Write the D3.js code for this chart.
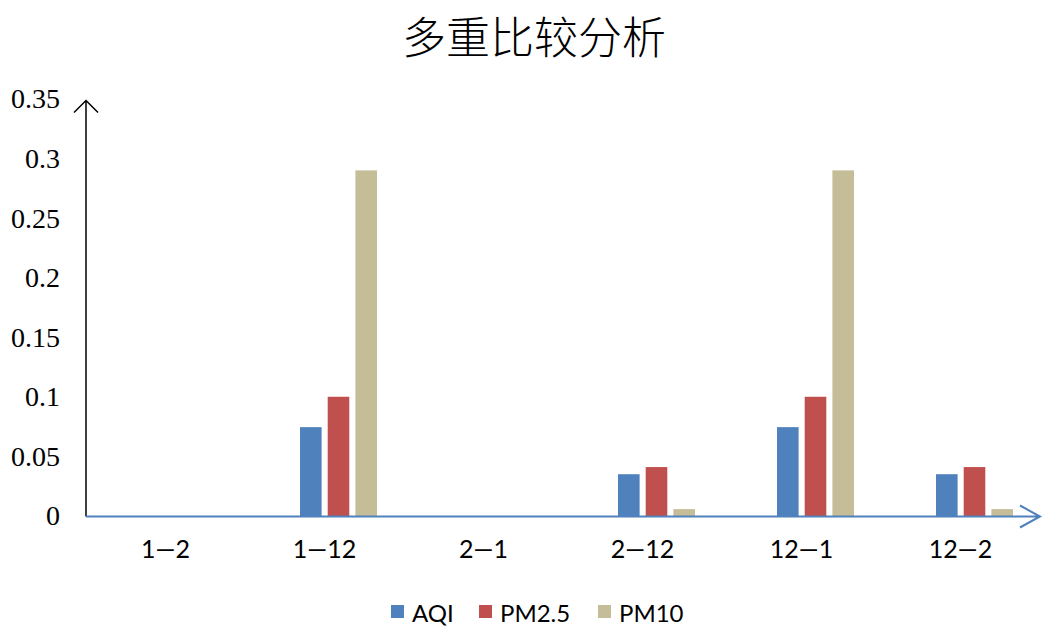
<!DOCTYPE html>
<html>
<head>
<meta charset="utf-8">
<script src="https://cdn.jsdelivr.net/npm/d3@7"></script>
<style>
body { margin: 0; background: #fff; }
svg { display: block; }
</style>
</head>
<body>
<div id="graph"></div>
<script>
// chart data
var categories = ["1—2", "1—12", "2—1", "2—12", "12—1", "12—2"];
var seriesNames = ["AQI", "PM2.5", "PM10"];
var aqi = [0, 0.075, 0, 0.0355, 0.075, 0.0355];
var pm25 = [0, 0.1005, 0, 0.0415, 0.1005, 0.0415];
var pm10 = [0, 0.2905, 0, 0.0062, 0.2905, 0.0062];
var yTicks = [0, 0.05, 0.1, 0.15, 0.2, 0.25, 0.3, 0.35];
var colors = ["#4F81BD", "#C0504D", "#C4BD97"];

var W = 1062, H = 644;
var plotLeft = 86, plotRight = 1040, plotTop = 99.5, plotBottom = 516.5;

var svg = d3.select("#graph").append("svg")
    .attr("width", W)
    .attr("height", H);

// scales
var x0 = d3.scaleBand()
    .domain(categories)
    .range([plotLeft, plotRight]);
var x1 = d3.scaleBand()
    .domain(seriesNames)
    .range([0, 77])
    .paddingInner(0.22);
var y = d3.scaleLinear()
    .domain([0, 0.35])
    .range([plotBottom, plotTop]);
var color = d3.scaleOrdinal().domain(seriesNames).range(colors);

var rows = categories.map(function(c, i) {
    return {cat: c, values: [aqi[i], pm25[i], pm10[i]]};
});

// title
svg.append("text")
    .attr("x", 534)
    .attr("y", 35)
    .attr("text-anchor", "middle")
    .attr("dominant-baseline", "central")
    .style("font-family", "'Noto Sans CJK SC', sans-serif")
    .style("font-size", "44px")
    .style("font-weight", 300)
    .text("多重比较分析");

// bars
var groupOffset = 55;
var groups = svg.selectAll(".grp")
    .data(rows)
    .enter().append("g")
    .attr("class", "grp")
    .attr("transform", function(d) { return "translate(" + (x0(d.cat) + groupOffset) + ",0)"; });

groups.selectAll("rect")
    .data(function(d) { return d.values.map(function(v, j) { return {key: seriesNames[j], value: v}; }); })
    .enter().append("rect")
    .attr("x", function(d) { return x1(d.key); })
    .attr("width", x1.bandwidth())
    .attr("y", function(d) { return y(d.value); })
    .attr("height", function(d) { return plotBottom - y(d.value); })
    .attr("fill", function(d) { return color(d.key); });

// y axis labels
var yAxis = svg.append("g")
    .attr("transform", "translate(" + plotLeft + ",0)")
    .call(d3.axisLeft(y).tickValues(yTicks).tickSize(0).tickPadding(26).tickFormat(function(d) { return String(d); }));
yAxis.select(".domain").remove();
yAxis.selectAll("text")
    .attr("dy", "0.3em")
    .style("font-family", "'Liberation Serif', 'Times New Roman', serif")
    .style("font-size", "28px")
    .attr("fill", "#000");

// x axis labels
var xAxis = svg.append("g")
    .attr("transform", "translate(0," + plotBottom + ")")
    .call(d3.axisBottom(x0).tickSize(0).tickPadding(24));
xAxis.select(".domain").remove();
xAxis.selectAll("text")
    .style("font-family", "Lato, 'Open Sans', sans-serif")
    .style("font-size", "25px")
    .attr("fill", "#000");

// axis lines with arrows
svg.append("path")
    .attr("d", "M" + plotLeft + "," + plotBottom + "L" + plotLeft + "," + (plotTop + 1) +
        "M" + (plotLeft - 12) + "," + (plotTop + 13) + "L" + plotLeft + "," + (plotTop + 1) + "L" + (plotLeft + 12) + "," + (plotTop + 13))
    .attr("fill", "none")
    .attr("stroke", "#000")
    .attr("stroke-width", 1.5);

svg.append("path")
    .attr("d", "M" + plotLeft + "," + plotBottom + "L" + plotRight + "," + plotBottom +
        "M" + (plotRight - 20) + "," + (plotBottom - 11) + "L" + plotRight + "," + plotBottom + "L" + (plotRight - 20) + "," + (plotBottom + 11))
    .attr("fill", "none")
    .attr("stroke", "#4F81BD")
    .attr("stroke-width", 2);

// legend
var legendX = [391, 479, 598];
var legend = svg.selectAll(".leg")
    .data(seriesNames)
    .enter().append("g")
    .attr("class", "leg")
    .attr("transform", function(d, i) { return "translate(" + legendX[i] + ",605)"; });
legend.append("rect")
    .attr("width", 13)
    .attr("height", 13)
    .attr("fill", function(d) { return color(d); });
legend.append("text")
    .attr("x", 21)
    .attr("y", 7)
    .attr("dominant-baseline", "central")
    .style("font-family", "Lato, 'Open Sans', sans-serif")
    .style("font-size", "24px")
    .text(function(d) { return d; });
</script>
</body>
</html>
